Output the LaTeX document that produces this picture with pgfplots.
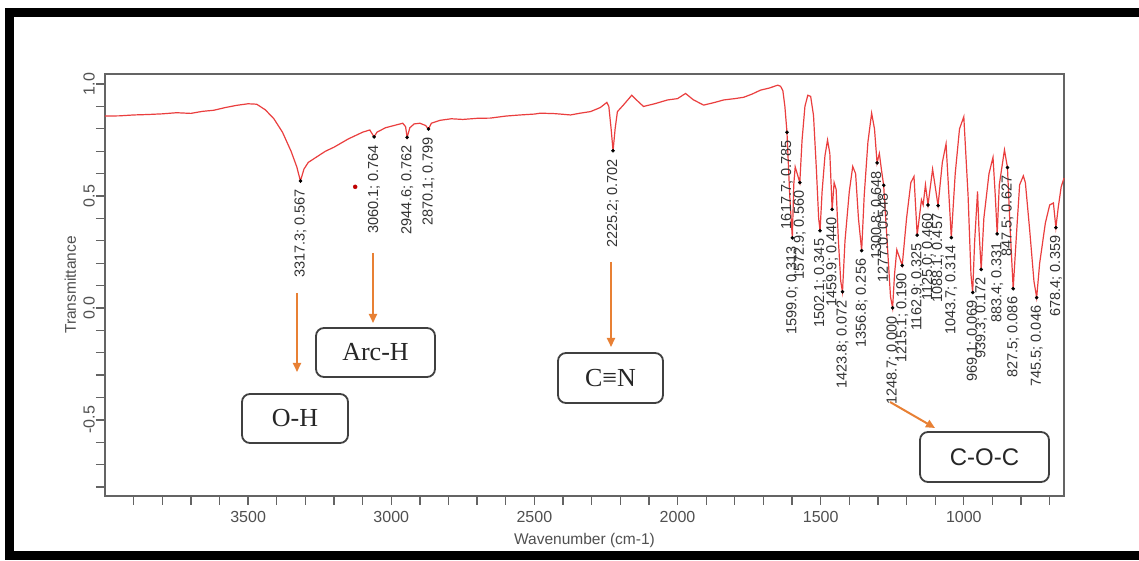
\documentclass[border=0pt]{standalone}
\usepackage{pgfplots}
\pgfplotsset{compat=1.18}
\usepackage{pgfplotstable}
\usepackage{fontspec}
\setmainfont{Liberation Sans}
\newfontfamily\seriffont{Liberation Serif}
\usetikzlibrary{arrows.meta}
\definecolor{spec}{RGB}{234,62,62}
\definecolor{axgray}{RGB}{100,100,100}
\definecolor{tickgray}{RGB}{80,80,80}
\definecolor{arr}{RGB}{232,128,52}
\newcommand\semi{;}

% FTIR spectrum
\pgfplotstableread{
wn t
4000 0.857
3950 0.858
3900 0.862
3850 0.864
3800 0.867
3750 0.872
3700 0.869
3660 0.878
3620 0.883
3580 0.895
3540 0.905
3500 0.912
3470 0.910
3440 0.885
3410 0.845
3380 0.785
3350 0.700
3330 0.630
3317.3 0.567
3305 0.620
3290 0.650
3260 0.675
3230 0.700
3200 0.718
3150 0.755
3100 0.785
3075 0.795
3060.1 0.764
3050 0.785
3020 0.805
2990 0.815
2960 0.825
2950 0.810
2944.6 0.762
2935 0.805
2920 0.822
2900 0.825
2880 0.815
2870.1 0.799
2860 0.825
2830 0.838
2790 0.845
2750 0.842
2700 0.847
2654 0.848
2600 0.857
2550 0.862
2500 0.866
2479 0.870
2430 0.868
2400 0.865
2374 0.862
2340 0.870
2304 0.877
2270 0.895
2247 0.918
2240 0.900
2232 0.800
2225.2 0.702
2218 0.800
2210 0.877
2190 0.905
2160 0.950
2140 0.925
2119 0.900
2080 0.912
2035 0.929
2000 0.935
1972 0.958
1945 0.930
1909 0.906
1870 0.918
1839 0.929
1800 0.935
1769 0.941
1740 0.955
1710 0.973
1680 0.982
1650 0.995
1640 0.990
1632 0.970
1625 0.900
1617.7 0.785
1608 0.500
1599.0 0.313
1594 0.550
1589 0.630
1582 0.600
1572.9 0.560
1565 0.750
1555 0.900
1545 0.950
1535 0.945
1525 0.860
1515 0.620
1507 0.400
1502.1 0.345
1495 0.520
1485 0.680
1476 0.750
1468 0.690
1459.9 0.440
1453 0.560
1446 0.530
1438 0.300
1430 0.120
1423.8 0.072
1415 0.300
1400 0.520
1388 0.632
1378 0.600
1368 0.400
1356.8 0.256
1348 0.500
1335 0.740
1322 0.870
1312 0.800
1303 0.648
1295 0.690
1288 0.620
1280 0.548
1268 0.300
1256 0.050
1248.7 0.000
1242 0.150
1234 0.260
1226 0.230
1215.1 0.190
1200 0.400
1185 0.560
1174 0.587
1162.9 0.325
1148 0.483
1142 0.460
1134 0.550
1125 0.460
1109 0.620
1090 0.457
1075 0.650
1062 0.733
1043.7 0.314
1030 0.600
1015 0.800
1000 0.854
985 0.500
975 0.150
969.1 0.069
962 0.300
952 0.520
947 0.350
939.3 0.172
930 0.400
912 0.600
898 0.673
890 0.500
883.4 0.331
876 0.550
858 0.706
847.5 0.627
838 0.350
827.5 0.086
815 0.350
805 0.550
792 0.590
785 0.560
770 0.350
755 0.120
745.5 0.046
735 0.200
715 0.380
700 0.460
687 0.469
678.4 0.359
670 0.450
660 0.540
650 0.580
}\spectrum

% labelled minima: plotted position, label wavenumber
\pgfplotstableread{
wn t lw
3317.3 0.567 3317.3
3060.1 0.764 3060.1
2944.6 0.762 2944.6
2870.1 0.799 2870.1
2225.2 0.702 2225.2
1617.7 0.785 1617.7
1599.0 0.313 1599.0
1572.9 0.560 1572.9
1502.1 0.345 1502.1
1459.9 0.440 1459.9
1423.8 0.072 1423.8
1356.8 0.256 1356.8
1303.0 0.648 1300.8
1280.0 0.548 1277.0
1248.7 0.000 1248.7
1215.1 0.190 1215.1
1162.9 0.325 1162.9
1125.0 0.460 1125.0
1090.0 0.457 1088.1
1043.7 0.314 1043.7
969.1 0.069 969.1
939.3 0.172 939.3
883.4 0.331 883.4
847.5 0.627 847.5
827.5 0.086 827.5
745.5 0.046 745.5
678.4 0.359 678.4
}\peaks

\begin{document}
\begin{tikzpicture}[x=1pt,y=1pt]
\path[use as bounding box] (0,0) rectangle (1139,561);
\fill[white] (0,0) rectangle (1139,561);
\draw[line width=9pt,black] (9,5) rectangle (1150,548);

\begin{axis}[
	at={(105pt,65pt)}, anchor=south west,
	scale only axis, width=959pt, height=422pt,
	x dir=reverse,
	xmin=650, xmax=4000,
	ymin=-0.84, ymax=1.045,
	xtick={1000,1500,2000,2500,3000,3500},
	xticklabels={1000,1500,2000,2500,3000,3500},
	minor xtick={700,800,...,3900},
	ytick={-0.5,0,0.5,1},
	yticklabels={-0.5,0.0,0.5,1.0},
	minor ytick={-0.8,-0.7,...,1.0},
	xtick pos=lower, ytick pos=left,
	tick align=outside,
	major tick length=9pt, minor tick length=9pt,
	axis line style={draw=axgray, line width=1.3pt},
	every tick/.style={axgray, line width=1.3pt},
	tick label style={font=\fontsize{16}{16}\selectfont, text=tickgray},
	yticklabel style={rotate=90, anchor=south, inner sep=1pt},
	xticklabel style={inner sep=6pt},
	xlabel={Wavenumber (cm-1)},
	ylabel={Transmittance},
	label style={font=\fontsize{15.5}{15.5}\selectfont, text=tickgray},
	xlabel style={yshift=-1pt},
	ylabel style={yshift=3pt},
	clip=false,
]
\addplot[spec, line width=1.2pt] table[x=wn, y=t] {\spectrum};

\addplot[only marks, mark=*, mark size=1.6pt, black,
	point meta=\thisrow{lw},
	visualization depends on={\thisrow{t} \as \tval},
	nodes near coords={\pgfmathprintnumber[fixed, fixed zerofill, precision=1, 1000 sep={}, assume math mode=true]{\pgfplotspointmeta}\semi\ \pgfmathprintnumber[fixed, fixed zerofill, precision=3, assume math mode=true]{\tval}},
	nodes near coords style={font=\fontsize{14.5}{14.5}\selectfont, text=black!80,
		yshift=-7pt, rotate=90, anchor=east, inner sep=1pt}]
	table[x=wn, y=t] {\peaks};

\addplot[only marks, mark=*, mark size=2pt, red!75!black]
	coordinates {(3126,0.541)};
\end{axis}

% band assignments
\begin{scope}[arr, line width=2pt, -{Triangle[length=9pt,width=8pt]}]
\draw (297,268) -- (297,189);
\draw (373,308) -- (373,238);
\draw (611,299) -- (611,214);
\draw (890,159) -- (935,133);
\end{scope}
\begin{scope}[every node/.style={draw=black!75, line width=1.8pt, rounded corners=8pt,
	fill=white, text=black!85, inner sep=0pt}]
\node[minimum width=106pt, minimum height=49pt, font=\seriffont\fontsize{26}{26}\selectfont] at (295,142.5) {O-H};
\node[minimum width=119pt, minimum height=49pt, font=\seriffont\fontsize{26}{26}\selectfont] at (375.5,208.5) {Arc-H};
\node[minimum width=105pt, minimum height=50pt, font=\seriffont\fontsize{26}{26}\selectfont] at (610.5,183) {C≡N};
\node[minimum width=129pt, minimum height=50pt, font=\fontsize{24}{24}\selectfont] at (984.5,104) {C-O-C};
\end{scope}
\end{tikzpicture}
\end{document}
